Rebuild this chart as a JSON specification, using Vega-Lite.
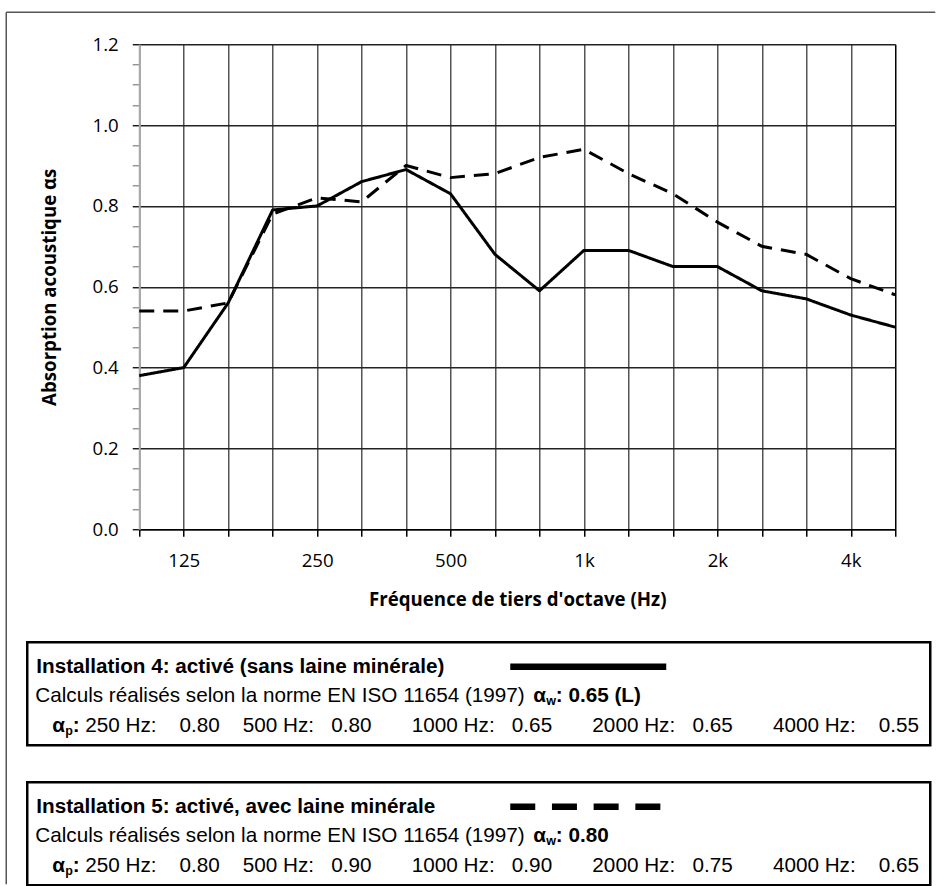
{
  "$schema": "https://vega.github.io/schema/vega-lite/v6.json",
  "background": "white",
  "padding": {"left": 5.25, "top": 11.25, "right": 0, "bottom": 0},
  "bounds": "flush",
  "spacing": 113,
  "config": {"view": {"stroke": null}, "font": "Open Sans"},
  "resolve": {"scale": {"strokeDash": "independent"}},
  "vconcat": [
    {
      "width": 756,
      "height": 485,
      "layer": [
        {
          "data": {"values": [
            {"frequence": "100", "installation": "Installation 4", "alpha": 0.38},
            {"frequence": "125", "installation": "Installation 4", "alpha": 0.40},
            {"frequence": "160", "installation": "Installation 4", "alpha": 0.56},
            {"frequence": "200", "installation": "Installation 4", "alpha": 0.79},
            {"frequence": "250", "installation": "Installation 4", "alpha": 0.80},
            {"frequence": "315", "installation": "Installation 4", "alpha": 0.86},
            {"frequence": "400", "installation": "Installation 4", "alpha": 0.89},
            {"frequence": "500", "installation": "Installation 4", "alpha": 0.83},
            {"frequence": "630", "installation": "Installation 4", "alpha": 0.68},
            {"frequence": "800", "installation": "Installation 4", "alpha": 0.59},
            {"frequence": "1k", "installation": "Installation 4", "alpha": 0.69},
            {"frequence": "1.25k", "installation": "Installation 4", "alpha": 0.69},
            {"frequence": "1.6k", "installation": "Installation 4", "alpha": 0.65},
            {"frequence": "2k", "installation": "Installation 4", "alpha": 0.65},
            {"frequence": "2.5k", "installation": "Installation 4", "alpha": 0.59},
            {"frequence": "3.15k", "installation": "Installation 4", "alpha": 0.57},
            {"frequence": "4k", "installation": "Installation 4", "alpha": 0.53},
            {"frequence": "5k", "installation": "Installation 4", "alpha": 0.50},
            {"frequence": "100", "installation": "Installation 5", "alpha": 0.54},
            {"frequence": "125", "installation": "Installation 5", "alpha": 0.54},
            {"frequence": "160", "installation": "Installation 5", "alpha": 0.56},
            {"frequence": "200", "installation": "Installation 5", "alpha": 0.78},
            {"frequence": "250", "installation": "Installation 5", "alpha": 0.82},
            {"frequence": "315", "installation": "Installation 5", "alpha": 0.81},
            {"frequence": "400", "installation": "Installation 5", "alpha": 0.90},
            {"frequence": "500", "installation": "Installation 5", "alpha": 0.87},
            {"frequence": "630", "installation": "Installation 5", "alpha": 0.88},
            {"frequence": "800", "installation": "Installation 5", "alpha": 0.92},
            {"frequence": "1k", "installation": "Installation 5", "alpha": 0.94},
            {"frequence": "1.25k", "installation": "Installation 5", "alpha": 0.88},
            {"frequence": "1.6k", "installation": "Installation 5", "alpha": 0.83},
            {"frequence": "2k", "installation": "Installation 5", "alpha": 0.76},
            {"frequence": "2.5k", "installation": "Installation 5", "alpha": 0.70},
            {"frequence": "3.15k", "installation": "Installation 5", "alpha": 0.68},
            {"frequence": "4k", "installation": "Installation 5", "alpha": 0.62},
            {"frequence": "5k", "installation": "Installation 5", "alpha": 0.58}
          ]},
          "mark": {"type": "line", "color": "#000", "strokeWidth": 3, "strokeJoin": "round"},
          "encoding": {
            "x": {
              "field": "frequence", "type": "ordinal",
              "scale": {"type": "point", "padding": 0, "domain": ["100","125","160","200","250","315","400","500","630","800","1k","1.25k","1.6k","2k","2.5k","3.15k","4k","5k"]},
              "axis": {
                "title": "Fréquence de tiers d'octave (Hz)",
                "labelExpr": "indexof(['125','250','500','1k','2k','4k'], datum.value) >= 0 ? datum.value : ''",
                "labelAngle": 0, "labelOverlap": false,
                "labelFont": "Open Sans", "labelFontSize": 18.67, "labelColor": "#000", "labelPadding": 15,
                "grid": true,
                "gridColor": {"condition": {"test": "datum.value === '5k'", "value": "#000"}, "value": "#555"},
                "gridWidth": 1.5,
                "ticks": true, "tickSize": 7, "tickColor": "#000", "tickWidth": 1.5,
                "domainColor": "#000", "domainWidth": 1.5,
                "titleFont": "Open Sans", "titleFontSize": 18.67, "titleFontWeight": "bold", "titleColor": "#000", "titlePadding": 21
              }
            },
            "y": {
              "field": "alpha", "type": "quantitative",
              "scale": {"domain": [0, 1.2], "nice": false},
              "axis": {
                "title": "Absorption acoustique αs",
                "values": [0,0.05,0.1,0.15,0.2,0.25,0.3,0.35,0.4,0.45,0.5,0.55,0.6,0.65,0.7,0.75,0.8,0.85,0.9,0.95,1,1.05,1.1,1.15,1.2],
                "labelExpr": "abs(datum.value * 5 - round(datum.value * 5)) < 0.001 ? format(datum.value, '.1f') : ''",
                "labelOverlap": false, "labelFlush": false, "labelBound": false,
                "labelFont": "Open Sans", "labelFontSize": 18.67, "labelColor": "#000", "labelPadding": 14,
                "grid": true,
                "gridOpacity": {"condition": {"test": "abs(datum.value * 5 - round(datum.value * 5)) < 0.001", "value": 1}, "value": 0},
                "gridColor": "#222", "gridWidth": 1.5,
                "tickSize": 7, "tickWidth": 1.3,
                "tickColor": {"condition": {"test": "abs(datum.value * 5 - round(datum.value * 5)) < 0.001", "value": "#000"}, "value": "#888"},
                "domainColor": "#aaa", "domainWidth": 2,
                "titleFont": "Open Sans", "titleFontSize": 18.67, "titleFontWeight": "bold", "titleColor": "#000", "titlePadding": 33
              }
            },
            "strokeDash": {
              "field": "installation", "type": "nominal",
              "scale": {"domain": ["Installation 4", "Installation 5"], "range": [[1, 0], [15, 9]]},
              "legend": null
            }
          }
        },
        {
          "data": {"values": [{"element": "cadre"}]},
          "layer": [
            {
              "mark": {"type": "rule", "color": "#555", "strokeWidth": 1.5},
              "encoding": {
                "x": {"datum": 6, "type": "quantitative", "scale": {"domain": [139, 895], "range": [0, 756]}, "axis": null},
                "x2": {"datum": 935},
                "y": {"datum": 12, "type": "quantitative", "scale": {"domain": [44, 529], "range": [0, 485]}, "axis": null}
              }
            },
            {
              "mark": {"type": "rule", "color": "#555", "strokeWidth": 1.5},
              "encoding": {
                "x": {"datum": 6, "type": "quantitative", "scale": {"domain": [139, 895], "range": [0, 756]}, "axis": null},
                "y": {"datum": 12, "type": "quantitative", "scale": {"domain": [44, 529], "range": [0, 485]}, "axis": null},
                "y2": {"datum": 884}
              }
            }
          ]
        }
      ],
      "resolve": {"scale": {"x": "independent", "y": "independent"}}
    },
    {
      "data": {"values": [
        {"box": "1", "slot": "titre", "texte": "Installation 4: activé (sans laine minérale)"},
        {"box": "1", "slot": "norme", "texte": "Calculs réalisés selon la norme EN ISO 11654 (1997)"},
        {"box": "1", "slot": "aw_alpha", "texte": "α"},
        {"box": "1", "slot": "aw_indice", "texte": "w"},
        {"box": "1", "slot": "aw_valeur", "texte": ": 0.65 (L)"},
        {"box": "1", "slot": "ap_alpha", "texte": "α"},
        {"box": "1", "slot": "ap_indice", "texte": "p"},
        {"box": "1", "slot": "ap_deuxpoints", "texte": ":"},
        {"box": "1", "slot": "ap_valeurs", "texte": "250 Hz:\u00a0\u00a0\u00a0\u00a00.80\u00a0\u00a0\u00a0\u00a0500 Hz:\u00a0\u00a0\u00a00.80\u00a0\u00a0\u00a0\u00a0\u00a0\u00a0\u00a01000 Hz:\u00a0\u00a0\u00a00.65\u00a0\u00a0\u00a0\u00a0\u00a0\u00a0\u00a02000 Hz:\u00a0\u00a0\u00a00.65\u00a0\u00a0\u00a0\u00a0\u00a0\u00a0\u00a04000 Hz:\u00a0\u00a0\u00a0\u00a00.55"},
        {"box": "2", "slot": "titre", "texte": "Installation 5: activé, avec laine minérale"},
        {"box": "2", "slot": "norme", "texte": "Calculs réalisés selon la norme EN ISO 11654 (1997)"},
        {"box": "2", "slot": "aw_alpha", "texte": "α"},
        {"box": "2", "slot": "aw_indice", "texte": "w"},
        {"box": "2", "slot": "aw_valeur", "texte": ": 0.80"},
        {"box": "2", "slot": "ap_alpha", "texte": "α"},
        {"box": "2", "slot": "ap_indice", "texte": "p"},
        {"box": "2", "slot": "ap_deuxpoints", "texte": ":"},
        {"box": "2", "slot": "ap_valeurs", "texte": "250 Hz:\u00a0\u00a0\u00a0\u00a00.80\u00a0\u00a0\u00a0\u00a0500 Hz:\u00a0\u00a0\u00a00.90\u00a0\u00a0\u00a0\u00a0\u00a0\u00a0\u00a01000 Hz:\u00a0\u00a0\u00a00.90\u00a0\u00a0\u00a0\u00a0\u00a0\u00a0\u00a02000 Hz:\u00a0\u00a0\u00a00.75\u00a0\u00a0\u00a0\u00a0\u00a0\u00a0\u00a04000 Hz:\u00a0\u00a0\u00a0\u00a00.65"}
      ]},
      "facet": {"row": {"field": "box", "type": "nominal", "title": null, "header": {"labels": false}}},
      "spacing": 33,
      "resolve": {"scale": {"strokeDash": "independent"}},
      "spec": {
        "width": 756,
        "height": 103,
        "layer": [
          {
            "transform": [{"filter": "datum.slot === 'titre'"}],
            "mark": {"type": "rect", "filled": false, "stroke": "#000", "strokeWidth": 2.5},
            "encoding": {
              "x": {"datum": 27, "type": "quantitative", "scale": {"domain": [139, 895], "range": [0, 756]}, "axis": null},
              "x2": {"datum": 930},
              "y": {"datum": 0, "type": "quantitative", "scale": {"domain": [0, 103], "range": [0, 103]}, "axis": null},
              "y2": {"datum": 103}
            }
          },
          {
            "transform": [{"filter": "datum.slot === 'titre'"}],
            "mark": {"type": "rule", "color": "#000", "strokeWidth": 6.5, "strokeCap": "butt"},
            "encoding": {
              "x": {"datum": 510, "type": "quantitative", "scale": {"domain": [139, 895], "range": [0, 756]}, "axis": null},
              "x2": {"datum": 666},
              "y": {"datum": 24.5, "type": "quantitative", "scale": {"domain": [0, 103], "range": [0, 103]}, "axis": null},
              "strokeDash": {"field": "box", "type": "nominal", "scale": {"domain": ["1", "2"], "range": [[1, 0], [25, 16.7]]}, "legend": null}
            }
          },
          {
            "transform": [{"filter": "datum.slot === 'titre'"}],
            "mark": {"type": "text", "align": "left", "baseline": "alphabetic", "font": "Liberation Sans", "fontSize": 20.7, "fontWeight": "bold", "color": "#000"},
            "encoding": {
              "text": {"field": "texte", "type": "nominal"},
              "x": {"datum": 36, "type": "quantitative", "scale": {"domain": [139, 895], "range": [0, 756]}, "axis": null},
              "y": {"datum": 30.5, "type": "quantitative", "scale": {"domain": [0, 103], "range": [0, 103]}, "axis": null}
            }
          },
          {
            "transform": [{"filter": "datum.slot === 'norme'"}],
            "mark": {"type": "text", "align": "left", "baseline": "alphabetic", "font": "Liberation Sans", "fontSize": 20.7, "color": "#000"},
            "encoding": {
              "text": {"field": "texte", "type": "nominal"},
              "x": {"datum": 35, "type": "quantitative", "scale": {"domain": [139, 895], "range": [0, 756]}, "axis": null},
              "y": {"datum": 59.5, "type": "quantitative", "scale": {"domain": [0, 103], "range": [0, 103]}, "axis": null}
            }
          },
          {
            "transform": [{"filter": "datum.slot === 'aw_alpha'"}],
            "mark": {"type": "text", "align": "left", "baseline": "alphabetic", "font": "Liberation Sans", "fontSize": 20.7, "fontWeight": "bold", "color": "#000"},
            "encoding": {
              "text": {"field": "texte", "type": "nominal"},
              "x": {"datum": 533, "type": "quantitative", "scale": {"domain": [139, 895], "range": [0, 756]}, "axis": null},
              "y": {"datum": 59.5, "type": "quantitative", "scale": {"domain": [0, 103], "range": [0, 103]}, "axis": null}
            }
          },
          {
            "transform": [{"filter": "datum.slot === 'aw_indice'"}],
            "mark": {"type": "text", "align": "left", "baseline": "alphabetic", "font": "Liberation Sans", "fontSize": 12.5, "fontWeight": "bold", "color": "#000"},
            "encoding": {
              "text": {"field": "texte", "type": "nominal"},
              "x": {"datum": 546, "type": "quantitative", "scale": {"domain": [139, 895], "range": [0, 756]}, "axis": null},
              "y": {"datum": 63, "type": "quantitative", "scale": {"domain": [0, 103], "range": [0, 103]}, "axis": null}
            }
          },
          {
            "transform": [{"filter": "datum.slot === 'aw_valeur'"}],
            "mark": {"type": "text", "align": "left", "baseline": "alphabetic", "font": "Liberation Sans", "fontSize": 20.7, "fontWeight": "bold", "color": "#000"},
            "encoding": {
              "text": {"field": "texte", "type": "nominal"},
              "x": {"datum": 555.5, "type": "quantitative", "scale": {"domain": [139, 895], "range": [0, 756]}, "axis": null},
              "y": {"datum": 59.5, "type": "quantitative", "scale": {"domain": [0, 103], "range": [0, 103]}, "axis": null}
            }
          },
          {
            "transform": [{"filter": "datum.slot === 'ap_alpha'"}],
            "mark": {"type": "text", "align": "left", "baseline": "alphabetic", "font": "Liberation Sans", "fontSize": 20.7, "fontWeight": "bold", "color": "#000"},
            "encoding": {
              "text": {"field": "texte", "type": "nominal"},
              "x": {"datum": 52, "type": "quantitative", "scale": {"domain": [139, 895], "range": [0, 756]}, "axis": null},
              "y": {"datum": 89.5, "type": "quantitative", "scale": {"domain": [0, 103], "range": [0, 103]}, "axis": null}
            }
          },
          {
            "transform": [{"filter": "datum.slot === 'ap_indice'"}],
            "mark": {"type": "text", "align": "left", "baseline": "alphabetic", "font": "Liberation Sans", "fontSize": 12.5, "fontWeight": "bold", "color": "#000"},
            "encoding": {
              "text": {"field": "texte", "type": "nominal"},
              "x": {"datum": 65, "type": "quantitative", "scale": {"domain": [139, 895], "range": [0, 756]}, "axis": null},
              "y": {"datum": 93, "type": "quantitative", "scale": {"domain": [0, 103], "range": [0, 103]}, "axis": null}
            }
          },
          {
            "transform": [{"filter": "datum.slot === 'ap_deuxpoints'"}],
            "mark": {"type": "text", "align": "left", "baseline": "alphabetic", "font": "Liberation Sans", "fontSize": 20.7, "fontWeight": "bold", "color": "#000"},
            "encoding": {
              "text": {"field": "texte", "type": "nominal"},
              "x": {"datum": 72.5, "type": "quantitative", "scale": {"domain": [139, 895], "range": [0, 756]}, "axis": null},
              "y": {"datum": 89.5, "type": "quantitative", "scale": {"domain": [0, 103], "range": [0, 103]}, "axis": null}
            }
          },
          {
            "transform": [{"filter": "datum.slot === 'ap_valeurs'"}],
            "mark": {"type": "text", "align": "left", "baseline": "alphabetic", "font": "Liberation Sans", "fontSize": 20.7, "color": "#000"},
            "encoding": {
              "text": {"field": "texte", "type": "nominal"},
              "x": {"datum": 85, "type": "quantitative", "scale": {"domain": [139, 895], "range": [0, 756]}, "axis": null},
              "y": {"datum": 89.5, "type": "quantitative", "scale": {"domain": [0, 103], "range": [0, 103]}, "axis": null}
            }
          }
        ]
      }
    }
  ]
}
